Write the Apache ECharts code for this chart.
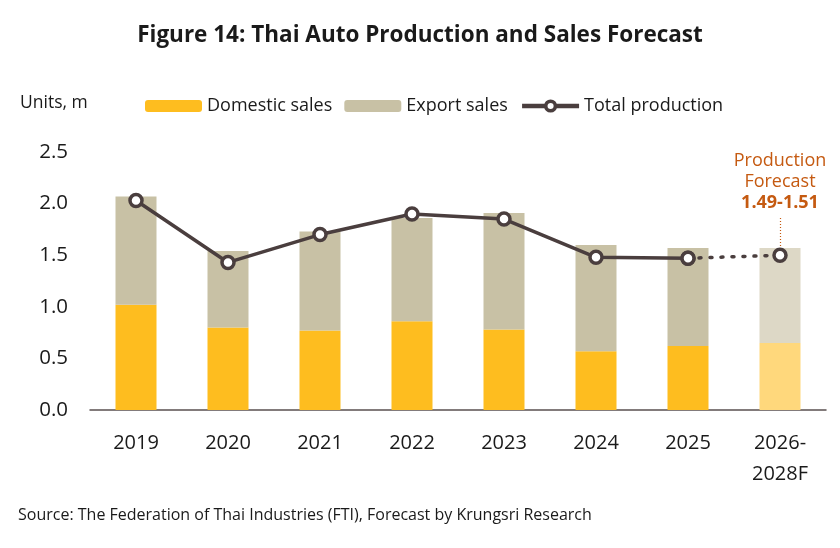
<!DOCTYPE html>
<html>
<head>
<meta charset="utf-8">
<script src="https://cdn.jsdelivr.net/npm/echarts@6/dist/echarts.min.js"></script>
<style>
  body { margin: 0; background: #fff; }
  #main { width: 840px; height: 548px; }
</style>
</head>
<body>
<div id="main"></div>
<script>
// data (units, million)
const years = ['2019', '2020', '2021', '2022', '2023', '2024', '2025', '2026-\n2028F'];
const domestic = [1.02, 0.80, 0.77, 0.86, 0.78, 0.57, 0.62, 0.65];
const exportSales = [1.05, 0.74, 0.96, 1.00, 1.13, 1.03, 0.95, 0.92];
const production = [2.03, 1.43, 1.70, 1.90, 1.85, 1.48, 1.47, 1.50];
const yTicks = [0, 0.5, 1.0, 1.5, 2.0, 2.5];

const font = 'Open Sans';
const dark = '#4a3e3e';
const last = years.length - 1;

// forecast bar is drawn lighter
const domesticData = domestic.map((v, i) => i === last ? { value: v, itemStyle: { color: '#ffd87c' } } : v);
const exportData = exportSales.map((v, i) => i === last ? { value: v, itemStyle: { color: '#ddd8c6' } } : v);
// solid line up to 2025, dotted to the forecast
const solidLine = production.map((v, i) => i < last ? v : null);
const dottedLine = production.map((v, i) => i >= last - 1 ? v : null);

var myChart = echarts.init(document.getElementById('main'));
var option = {
  animation: false,
  title: {
    text: 'Figure 14: Thai Auto Production and Sales Forecast',
    left: 'center',
    top: 19,
    textStyle: { fontFamily: font, fontSize: 22.5, fontWeight: 'bold', color: '#1a1a1a' }
  },
  legend: {
    data: ['Domestic sales', 'Export sales', {
      name: 'Total production',
      lineStyle: { width: 4.5 },
      itemStyle: { borderWidth: 3.5 }
    }],
    left: 140,
    top: 92,
    itemWidth: 57,
    itemHeight: 12,
    itemGap: 12,
    textStyle: { fontFamily: font, fontSize: 18, color: '#1a1a1a' }
  },
  grid: { left: 90, right: 14, top: 152, bottom: 138 },
  xAxis: {
    type: 'category',
    data: years,
    axisLine: { lineStyle: { color: '#5a5050', width: 1.5 } },
    axisTick: { show: false },
    axisLabel: { fontFamily: font, fontSize: 20, color: '#1a1a1a', margin: 18, lineHeight: 31 }
  },
  yAxis: {
    type: 'value',
    min: yTicks[0],
    max: yTicks[yTicks.length - 1],
    interval: 0.5,
    name: 'Units, m',
    nameLocation: 'end',
    nameGap: 40,
    nameTextStyle: { fontFamily: font, fontSize: 17.5, color: '#1a1a1a', align: 'left', padding: [0, 0, 0, -70] },
    splitLine: { show: false },
    axisLine: { show: false },
    axisTick: { show: false },
    axisLabel: { fontFamily: font, fontSize: 20.5, color: '#1a1a1a', margin: 22, formatter: v => v.toFixed(1) }
  },
  series: [{
    name: 'Domestic sales',
    type: 'bar',
    stack: 'sales',
    barWidth: 41,
    itemStyle: { color: '#febd1f' },
    data: domesticData
  }, {
    name: 'Export sales',
    type: 'bar',
    stack: 'sales',
    barWidth: 41,
    itemStyle: { color: '#c8c1a5' },
    data: exportData
  }, {
    name: 'Total production',
    type: 'line',
    data: solidLine,
    symbol: 'circle',
    symbolSize: 12,
    lineStyle: { color: dark, width: 3.5 },
    itemStyle: { color: '#fff', borderColor: dark, borderWidth: 3.5 },
    z: 5
  }, {
    name: 'forecast',
    type: 'line',
    data: dottedLine,
    symbol: 'circle',
    symbolSize: 12,
    lineStyle: { color: dark, width: 3.5, type: [2, 9], cap: 'round' },
    itemStyle: { color: '#fff', borderColor: dark, borderWidth: 3.5 },
    z: 5,
    label: {
      show: true,
      position: 'top',
      distance: 34,
      formatter: p => p.dataIndex === last ? '{n|Production}\n{n|Forecast}\n{b|1.49-1.51}' : '',
      rich: {
        n: { fontFamily: font, fontSize: 18, color: '#c55a11', lineHeight: 21, align: 'center' },
        b: { fontFamily: font, fontSize: 18, fontWeight: 'bold', color: '#c55a11', lineHeight: 21, align: 'center' }
      }
    },
    markLine: {
      silent: true,
      symbol: 'none',
      label: { show: false },
      lineStyle: { color: '#c55a11', type: [1, 2], width: 1.2 },
      data: [[{ coord: [last, 1.56] }, { coord: [last, 1.87] }]]
    }
  }],
  graphic: [{
    type: 'text',
    left: 18,
    top: 507,
    style: {
      text: 'Source: The Federation of Thai Industries (FTI), Forecast by Krungsri Research',
      fontFamily: font,
      fontSize: 16,
      fill: '#1a1a1a'
    }
  }]
};
myChart.setOption(option);
</script>
</body>
</html>
